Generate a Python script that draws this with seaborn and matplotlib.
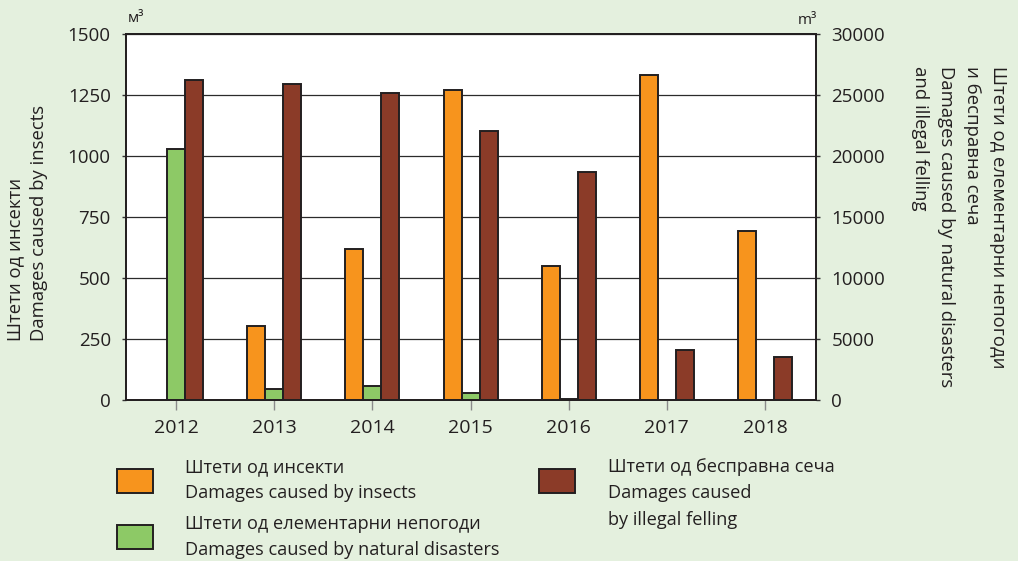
import numpy as np
import pandas as pd
import matplotlib.pyplot as plt
import seaborn as sns
from matplotlib.patches import Rectangle

# data
years = ["2012", "2013", "2014", "2015", "2016", "2017", "2018"]
insects = [np.nan, 304, 620, 1273, 550, 1332, 692]          # left axis, m3
natural = [20600, 925, 1115, 575, 100, np.nan, np.nan]      # right axis, m3
felling = [26230, 25930, 25210, 22070, 18660, 4100, 3525]   # right axis, m3

series = ["insects", "natural", "felling"]
labels = [
    "Штети од инсекти\nDamages caused by insects",
    "Штети од елементарни непогоди\nDamages caused by natural disasters",
    "Штети од бесправна сеча\nDamages caused\nby illegal felling",
]
colors = {"insects": "#F7941D", "natural": "#8DC966", "felling": "#8B3B28"}

# left axis (0-1500) is drawn as the right axis (0-30000) divided by 20
LEFT_MAX, RIGHT_MAX = 1500, 30000
k = RIGHT_MAX / LEFT_MAX

df = pd.DataFrame({
    "year": years * 3,
    "series": ["insects"] * 7 + ["natural"] * 7 + ["felling"] * 7,
    "value": [v * k for v in insects] + natural + felling,
}).dropna()

sns.set_style("white")
plt.rcParams["font.family"] = ["Open Sans", "DejaVu Sans"]
txt = "#231f20"
bg = "#E4F0DE"

fig = plt.figure(figsize=(10.18, 5.61), dpi=100, facecolor=bg)
ax = fig.add_axes([0.1238, 0.287, 0.6778, 0.652])
ax.set_facecolor("white")
ax2 = ax.twinx()

sns.barplot(data=df, x="year", y="value", hue="series", order=years,
            hue_order=series, palette=colors, saturation=1, width=0.55,
            errorbar=None, edgecolor="#231f20", linewidth=1.4, legend=False,
            ax=ax2)

ax2.set_xlim(-0.51, 6.52)
ax.set_ylim(0, LEFT_MAX)
ax.set_yticks(range(0, LEFT_MAX + 1, 250))
ax2.set_ylim(0, RIGHT_MAX)
ax2.set_yticks(range(0, RIGHT_MAX + 1, 5000))
ax.set_axisbelow(True)
ax.yaxis.grid(True, color="#2b2b2b", linewidth=0.9)
ax.xaxis.grid(False)
ax2.grid(False)

for a in (ax, ax2):
    a.set_xlabel("")
    a.set_ylabel("")
    for s in a.spines.values():
        s.set_color("#231f20")
        s.set_linewidth(1.3)
        s.set_visible(True)

ax.tick_params(axis="y", direction="out", length=3, width=1, color="#333",
               labelsize=13.5, labelcolor=txt, pad=8, left=True)
ax2.tick_params(axis="y", direction="out", length=3, width=1, color="#333",
                labelsize=13.5, labelcolor=txt, pad=8, right=True)
for a in (ax, ax2):
    a.tick_params(axis="x", direction="out", length=7, width=1, color="#8a8a8a",
                  labelsize=14, labelcolor=txt, pad=7, bottom=True)

# units
fig.text(128 / 1018, 1 - 18 / 561, "м³", fontsize=11, color=txt, ha="left", va="center")
fig.text(817 / 1018, 1 - 20 / 561, "m³", fontsize=11, color=txt, ha="right", va="center")

# axis titles
fig.text(27 / 1018, 1 - 341 / 561, "Штети од инсекти\nDamages caused by insects",
         rotation=90, ha="center", va="bottom", multialignment="left",
         fontsize=13.3, color=txt, linespacing=1.45)
fig.text(959 / 1018, 1 - 66 / 561,
         "Штети од елементарни непогоди\nи бесправна сеча\n"
         "Damages caused by natural disasters\nand illegal felling",
         rotation=270, ha="center", va="top", multialignment="left",
         fontsize=13.3, color=txt, linespacing=1.55)

# legend: swatch boxes and labels (pixel positions of the reference layout)
legend_pos = [(117, 469, 185, 458), (117, 525, 185, 515), (539, 469, 608, 458)]
for s, lab, (bx, by, tx, ty) in zip(series, labels, legend_pos):
    fig.add_artist(Rectangle((bx / 1018, 1 - (by + 24) / 561), 36 / 1018, 24 / 561,
                             transform=fig.transFigure, facecolor=colors[s],
                             edgecolor="#231f20", linewidth=1.4))
    fig.text(tx / 1018, 1 - ty / 561, lab, ha="left", va="top", fontsize=13.1,
             color=txt, linespacing=1.6)

fig.savefig("out.png", dpi=100, facecolor=bg)
